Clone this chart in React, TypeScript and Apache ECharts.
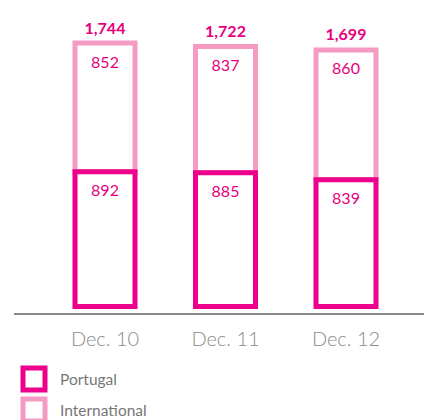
import React, { useEffect, useRef } from "react";
import * as echarts from "echarts";

const categories = ["Dec. 10", "Dec. 11", "Dec. 12"];
const portugal = [892, 885, 839];
const international = [852, 837, 860];
const totals = [1744, 1722, 1699];

const DARK = "#EC008C";
const LIGHT = "#F49AC3";
const LABEL = "#E6007E";
const FONT = "Lato, 'Open Sans', sans-serif";
const BAR_W = 60;
const STROKE = 5;

function boxRenderer(color: string) {
  return (params: any, api: any) => {
    const idx = api.value(0);
    const low = api.value(1);
    const high = api.value(2);
    const x = api.coord([idx, 0])[0];
    const yLow = api.coord([idx, low])[1];
    const yHigh = api.coord([idx, high])[1];
    return {
      type: "group",
      children: [
        {
          type: "rect",
          shape: { x: x - BAR_W / 2, y: yHigh, width: BAR_W, height: yLow - yHigh },
          style: { fill: "#ffffff", stroke: color, lineWidth: STROKE },
        },
        {
          type: "text",
          x,
          y: yHigh + 18,
          style: {
            text: String(high - low),
            fill: LABEL,
            fontSize: 16,
            fontFamily: FONT,
            align: "center",
            verticalAlign: "middle",
          },
        },
      ],
    };
  };
}

export default function App() {
  const ref = useRef<HTMLDivElement>(null);
  useEffect(() => {
    if (!ref.current) return;
    const chart = echarts.init(ref.current, null, { renderer: "svg" });
    const fmt = (v: number) => v.toLocaleString("en-US");
    const portugalData = portugal.map((v, i) => [i, 0, v]);
    const intlData = international.map((v, i) => [i, portugal[i], portugal[i] + v]);
    const totalData = totals.map((v, i) => [i, v]);
    chart.setOption({
      animation: false,
      backgroundColor: "#ffffff",
      grid: { left: 44.75, right: 17.75, top: 12, bottom: 106 },
      xAxis: {
        type: "category",
        data: categories,
        axisLine: { show: false },
        axisTick: { show: false },
        axisLabel: {
          margin: 14,
          fontSize: 20,
          fontWeight: 300,
          fontFamily: FONT,
          color: "#8c8c8c",
        },
      },
      yAxis: {
        type: "value",
        min: -50,
        max: 1950,
        show: false,
        splitLine: { show: false },
      },
      legend: {
        orient: "vertical",
        left: 20.5,
        top: 365.5,
        width: 200,
        height: 120,
        padding: 0,
        icon: "rect",
        itemWidth: 22,
        itemHeight: 22,
        itemGap: 4,
        textStyle: { fontSize: 15.5, color: "#777777", fontFamily: FONT, padding: [0, 0, 0, 10] },
        data: [
          { name: "Portugal", itemStyle: { color: "#ffffff", borderColor: DARK, borderWidth: STROKE } },
          { name: "International", itemStyle: { color: "#ffffff", borderColor: LIGHT, borderWidth: STROKE } },
        ],
      },
      graphic: [
        {
          type: "line",
          shape: { x1: 14, y1: 314, x2: 424, y2: 314 },
          style: { stroke: "#8a8a8a", lineWidth: 2 },
        },
      ],
      series: [
        {
          name: "Portugal",
          type: "custom",
          z: 3,
          encode: { x: 0, y: [1, 2] },
          itemStyle: { color: "#ffffff", borderColor: DARK, borderWidth: STROKE },
          data: portugalData,
          renderItem: boxRenderer(DARK),
        },
        {
          name: "International",
          type: "custom",
          z: 2,
          encode: { x: 0, y: [1, 2] },
          itemStyle: { color: "#ffffff", borderColor: LIGHT, borderWidth: STROKE },
          data: intlData,
          renderItem: boxRenderer(LIGHT),
        },
        {
          name: "Total",
          type: "custom",
          z: 4,
          encode: { x: 0, y: 1 },
          data: totalData,
          renderItem: (params: any, api: any) => {
            const idx = api.value(0);
            const v = api.value(1);
            const p = api.coord([idx, v]);
            return {
              type: "text",
              x: p[0],
              y: p[1] - 16,
              style: {
                text: fmt(v),
                fill: LABEL,
                fontSize: 16,
                fontWeight: "bold",
                fontFamily: FONT,
                align: "center",
                verticalAlign: "middle",
              },
            };
          },
        },
      ],
    });
    return () => chart.dispose();
  }, []);
  return (
    <div
      ref={ref}
      style={{ position: "fixed", left: 0, top: 0, width: 424, height: 420 }}
    />
  );
}
